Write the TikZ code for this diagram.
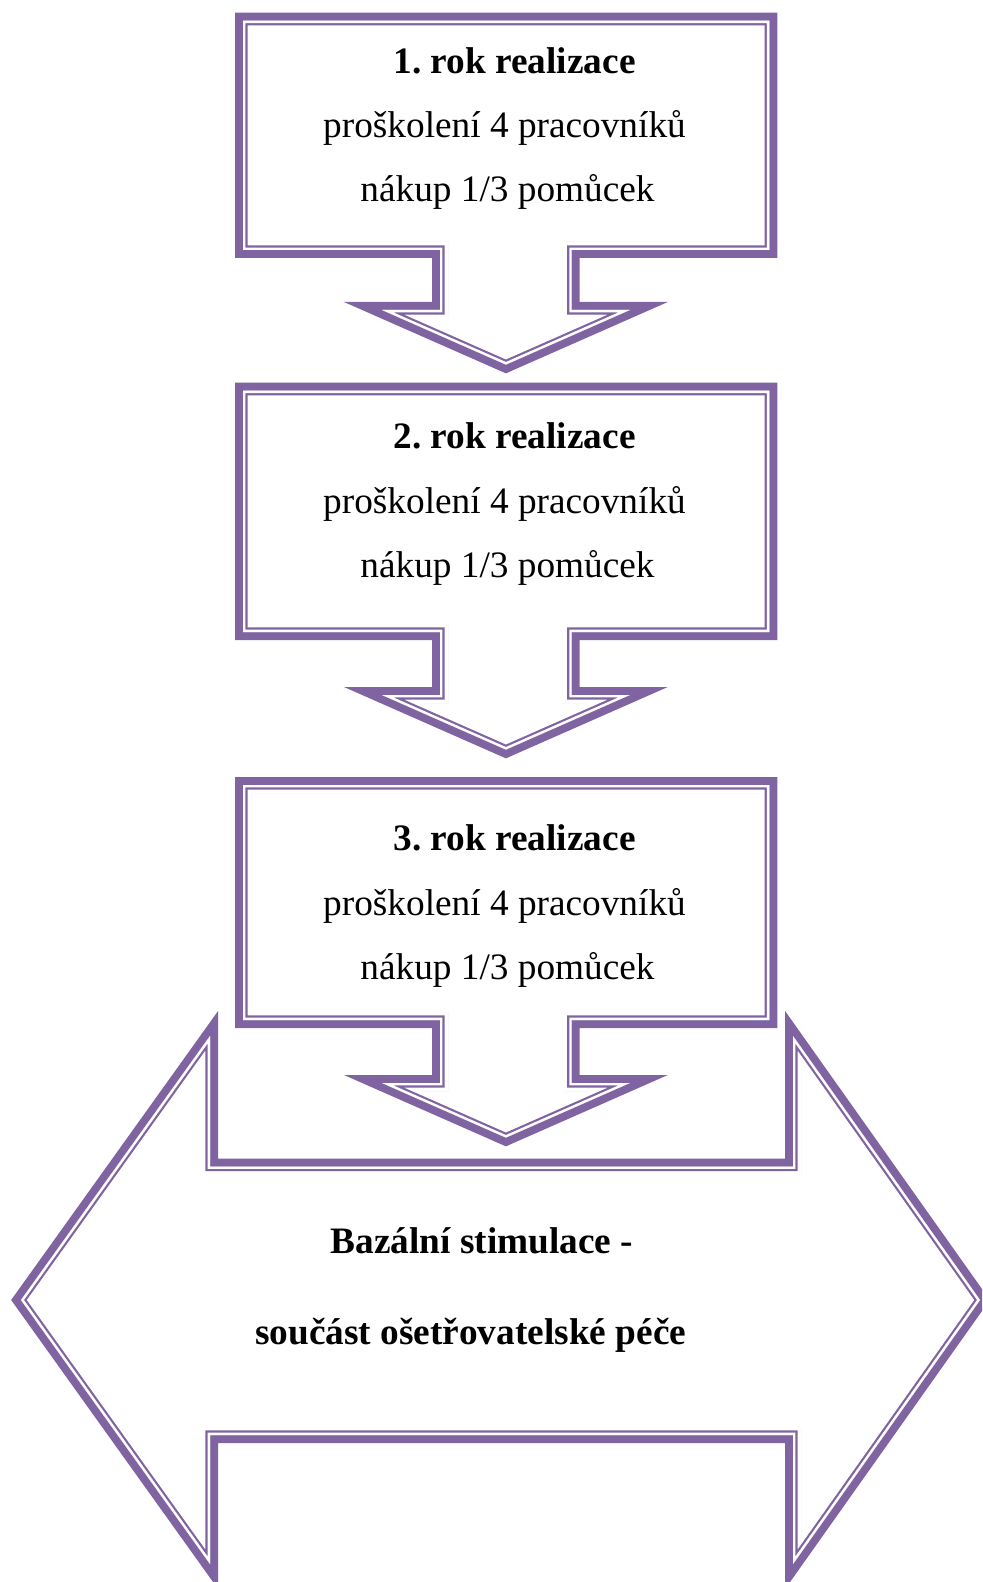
\documentclass[tikz,border=0pt]{standalone}
\usepackage{fontspec}
\setmainfont{Liberation Serif}
\frenchspacing
\definecolor{accentviolet}{RGB}{128,100,162}
\tikzset{
  outerband/.style={draw=accentviolet, line width=8pt, line join=miter, miter limit=12},
  clearband/.style={draw=white, line width=8.6pt, line join=miter, miter limit=12},
  thinband/.style={draw=accentviolet, line width=4.6pt, line join=miter, miter limit=12},
  gapband/.style={draw=white, line width=2.4pt, line join=miter, miter limit=12},
  bodytext/.style={anchor=base, inner sep=0pt, font=\fontsize{18.65}{22}\selectfont},
  headtext/.style={anchor=base, inner sep=0pt, font=\fontsize{18.65}{22}\selectfont\bfseries},
}
\newcommand{\compoundframe}[1]{%
  \path[outerband] #1;
  \begin{scope}
    \clip #1;
    \path[clearband] #1;
    \path[thinband] #1;
    \path[gapband] #1;
  \end{scope}}
\newcommand{\calloutpath}[4]{(243,#1) -- (769.3,#1) -- (769.3,#2) -- (571.7,#2) -- (571.7,#3) -- (629.8,#3) -- (505.9,#4) -- (382,#3) -- (440,#3) -- (440,#2) -- (243,#2) -- cycle}
\newcommand{\bigarrowpath}{(21,1300) -- (210,1036) -- (210,1166.5) -- (793,1166.5) -- (793,1036) -- (980,1300) -- (793,1564) -- (793,1435) -- (210,1435) -- (210,1564) -- cycle}
\begin{document}
\begin{tikzpicture}[x=0.5pt, y=-0.5pt]
  \useasboundingbox (0,0) rectangle (982,1582);
  \clip (0,0) rectangle (982,1582);
  \fill[white] (0,0) rectangle (982,1582);

  % bottom left-right arrow
  \compoundframe{\bigarrowpath}

  % three down-arrow callouts
  \compoundframe{\calloutpath{20.7}{250}{310}{364.6}}
  \compoundframe{\calloutpath{390.7}{632}{695}{749.6}}
  \compoundframe{\calloutpath{785}{1020}{1083}{1137.6}}

  % texts of callout 1
  \node[headtext] (ya) at (514.6,73.7) {1. rok realizace};
  \node[bodytext] (yb) at (504.5,138) {proškolení 4 pracovníků};
  \node[bodytext] (yc) at (507.5,202) {nákup 1/3 pomůcek};

  % texts of callout 2
  \node[headtext] (za) at (514.6,449) {2. rok realizace};
  \node[bodytext] (zb) at (504.5,513.6) {proškolení 4 pracovníků};
  \node[bodytext] (zc) at (507.5,577) {nákup 1/3 pomůcek};

  % texts of callout 3
  \node[headtext] (wa) at (514.6,850.6) {3. rok realizace};
  \node[bodytext] (wb) at (504.5,915) {proškolení 4 pracovníků};
  \node[bodytext] (wc) at (507.5,979) {nákup 1/3 pomůcek};

  % texts of the big arrow
  \node[headtext] (ba) at (482,1253) {Bazální stimulace -};
  \node[headtext] (bb) at (470.7,1344) {součást ošetřovatelské péče};
\end{tikzpicture}
\end{document}
